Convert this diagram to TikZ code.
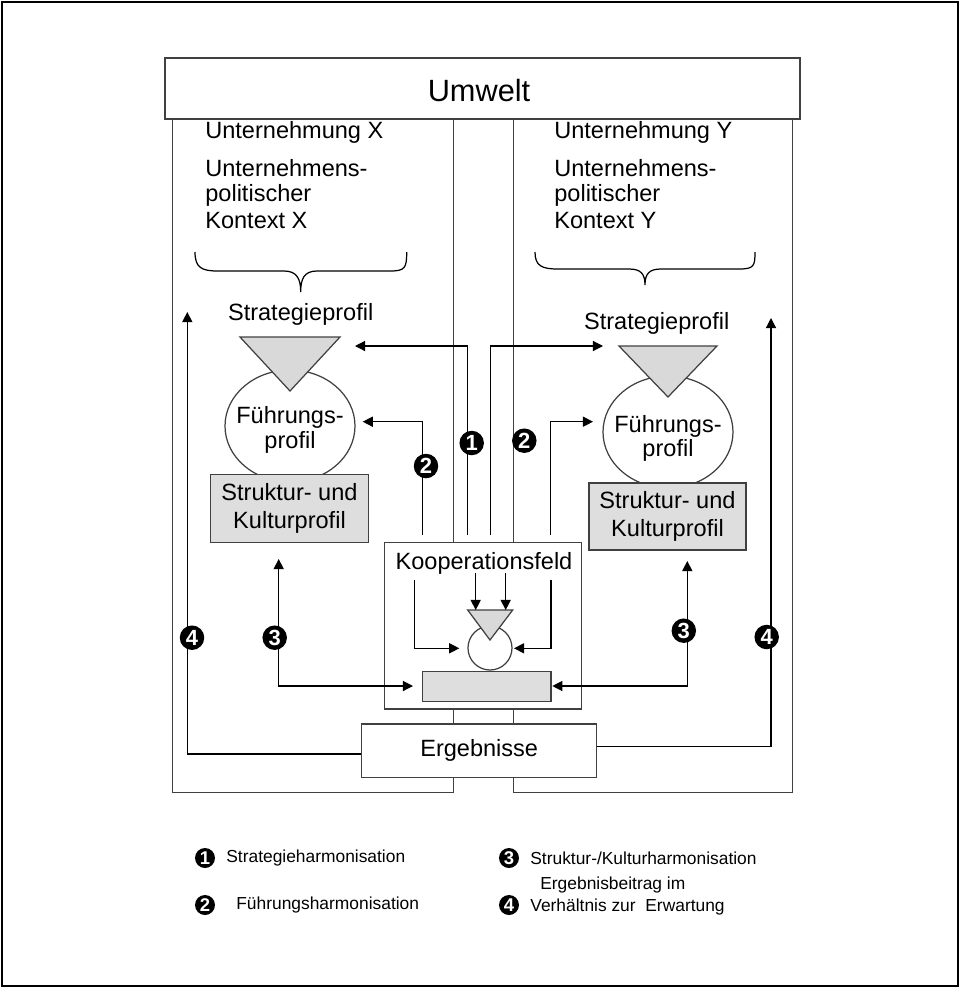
\documentclass[tikz,border=0pt]{standalone}
\usepackage{fontspec}
\setmainfont{Liberation Sans}
\usetikzlibrary{arrows.meta}
\newcommand\lblfont{\fontsize{13.4}{14}\selectfont}
\newcommand\bigfont{\fontsize{17.5}{19}\selectfont}
\newcommand\legfont{\fontsize{9.9}{12}\selectfont}
\begin{document}
\begin{tikzpicture}[x=0.02cm,y=-0.02cm,
  box/.style={draw=black!75, line width=0.7pt},
  conn/.style={draw=black, line width=0.7pt},
  arr/.style={conn, -{Triangle[length=5.8pt,width=5.8pt]}},
  darr/.style={conn, {Triangle[length=5.8pt,width=5.8pt]}-{Triangle[length=5.8pt,width=5.8pt]}},
  lbl/.style={inner sep=0pt, font=\lblfont},
  badge/.style={circle, fill=black, text=white, inner sep=0pt, minimum size=0.49cm, font=\bfseries\fontsize{12.5}{12.5}\selectfont},
  legbadge/.style={badge, minimum size=0.4cm, font=\bfseries\fontsize{10.5}{10.5}\selectfont},
  legtext/.style={inner sep=0pt, anchor=west, font=\legfont, align=left},
  graybox/.style={box, fill=black!13},
  tri/.style={box, fill=black!15}]

\useasboundingbox (0,0) rectangle (960,988);

% outer frame
\draw[line width=1.2pt] (2,2) rectangle (958,986);

% the two enterprises
\draw[box] (172.5,119) rectangle (453.3,792.3);
\draw[box] (513.3,119) rectangle (792.7,792.3);

% environment
\draw[box, fill=white] (165,58) rectangle (800,119);
\node[inner sep=0pt, font=\bigfont] (umwelt) at (479,91) {Umwelt};

% texts of enterprise X
\node[lbl, anchor=west] (untX) at (205,132) {Unternehmung X};
\node[lbl, anchor=west] (polX1) at (205,168) {Unternehmens-};
\node[lbl, anchor=west] (polX2) at (205,195) {politischer};
\node[lbl, anchor=west] (polX3) at (205,221) {Kontext X};
% texts of enterprise Y
\node[lbl, anchor=west] (untY) at (554,132) {Unternehmung Y};
\node[lbl, anchor=west] (polY1) at (554,168) {Unternehmens-};
\node[lbl, anchor=west] (polY2) at (554,195) {politischer};
\node[lbl, anchor=west] (polY3) at (554,221) {Kontext Y};

% braces
\draw[conn] (195,252) .. controls (195,268) and (202,271) .. (218,271) -- (284,271)
  .. controls (297,271) and (300.7,279) .. (300.7,292)
  .. controls (300.7,279) and (304,271) .. (317,271) -- (390,271)
  .. controls (405,271) and (406.7,268) .. (406.7,252);
\draw[conn] (535,252) .. controls (535,266) and (542,269) .. (558,269) -- (629,269)
  .. controls (641,269) and (645,274) .. (645,285)
  .. controls (645,274) and (649,269) .. (661,269) -- (739,269)
  .. controls (754,269) and (755,266) .. (755,252);

% profiles of X
\node[lbl] (stratX) at (300.7,314) {Strategieprofil};
\draw[box, fill=white] (290,426) ellipse [x radius=65, y radius=56];
\node[lbl, align=center] (fuehrX) at (290,430) {Führungs-\\profil};
\draw[tri] (240,337) -- (340,337) -- (290,391) -- cycle;
\node[graybox, minimum width=3.15cm, minimum height=1.37cm, lbl, align=center,
      font=\fontsize{13.4}{15.5}\selectfont] (strukX) at (289.5,508.5) {Struktur- und\\Kulturprofil};

% profiles of Y
\node[lbl] (stratY) at (656.7,323) {Strategieprofil};
\draw[box, fill=white] (668,432) ellipse [x radius=65, y radius=56];
\node[lbl, align=center] (fuehrY) at (668,438.5) {Führungs-\\profil};
\draw[tri] (619,346) -- (717,346) -- (668,397) -- cycle;
\node[graybox, minimum width=3.14cm, minimum height=1.34cm, lbl, align=center,
      font=\fontsize{13.4}{15.5}\selectfont] (strukY) at (667.5,516.5) {Struktur- und\\Kulturprofil};

% cooperation field
\draw[box, fill=white] (384.3,542.7) rectangle (581.5,709);
\node[lbl] (koop) at (484,563) {Kooperationsfeld};
\draw[box, fill=white] (490,648) circle [radius=22];
\draw[tri] (467.7,610) -- (512.7,610) -- (490,640) -- cycle;
\node[graybox, minimum width=2.574cm, minimum height=0.6cm] (kstruk) at (486.65,686.7) {};

% results
\node[box, fill=white, minimum width=4.7cm, minimum height=1.066cm, lbl] (erg) at (479.2,750.6) {Ergebnisse};
\draw[box] (453.3,709) -- (453.3,724);
\draw[box] (513.3,709) -- (513.3,724);

% connector end points
\coordinate (k1l) at (467.7,535);
\coordinate (k1r) at (490.7,535);
\coordinate (k2l) at (422.3,535);
\coordinate (k2r) at (550.7,535);
\coordinate (t1l) at (355,346);
\coordinate (t1r) at (603,346);
\coordinate (t2l) at (362.7,421.7);
\coordinate (t2r) at (593,421.7);
\coordinate (c3l) at (278.7,686);
\coordinate (c3r) at (687.3,686);
\coordinate (t3l) at (278.7,559);
\coordinate (t3r) at (687.3,561);
\coordinate (c4l) at (187.3,754);
\coordinate (c4r) at (771,746.7);
\coordinate (t4l) at (187.3,312);
\coordinate (t4r) at (771,318);

% 1: strategy harmonisation
\draw[arr] (k1l) |- (t1l);
\draw[arr] (k1r) |- (t1r);
% 2: leadership harmonisation
\draw[arr] (k2l) |- (t2l);
\draw[arr] (k2r) |- (t2r);
% 3: structure/culture harmonisation
\draw[darr] (t3l) -- (c3l) -- (413,686);
\draw[darr] (t3r) -- (c3r) -- (552.3,686);
% 4: results in relation to expectation
\draw[arr] (erg.west |- c4l) -- (c4l) -- (t4l);
\draw[arr] (erg.east |- c4r) -- (c4r) -- (t4r);

% arrows inside the cooperation field
\draw[arr] (475.7,573) -- (475.7,610);
\draw[arr] (505.7,573) -- (505.7,610);
\draw[arr] (414.3,580) -- (414.3,648.3) -- (459.3,648.3);
\draw[arr] (551,580) -- (551,648.3) -- (514,648.3);

% badges
\node[badge] (b1) at (471.7,443) {1};
\node[badge] (b2l) at (426,466) {2};
\node[badge] (b2r) at (524.3,440.7) {2};
\node[badge] (b3l) at (274.7,637.7) {3};
\node[badge] (b4l) at (192,637.7) {4};
\node[badge] (b3r) at (683.8,630.7) {3};
\node[badge] (b4r) at (766.7,637) {4};

% legend
\node[legbadge] (l1) at (205,858) {1};
\node[legtext] (lt1) at (226,858) {Strategieharmonisation};
\node[legbadge] (l2) at (205,905) {2};
\node[legtext] (lt2) at (236,905) {Führungsharmonisation};
\node[legbadge] (l3) at (509,858) {3};
\node[legtext] (lt3) at (530,858) {Struktur-/Kulturharmonisation};
\node[legbadge] (l4) at (509,905) {4};
\node[legtext] (lt4a) at (540,885) {Ergebnisbeitrag im};
\node[legtext] (lt4b) at (530,907) {Verhältnis zur\ \ Erwartung};

\end{tikzpicture}
\end{document}
